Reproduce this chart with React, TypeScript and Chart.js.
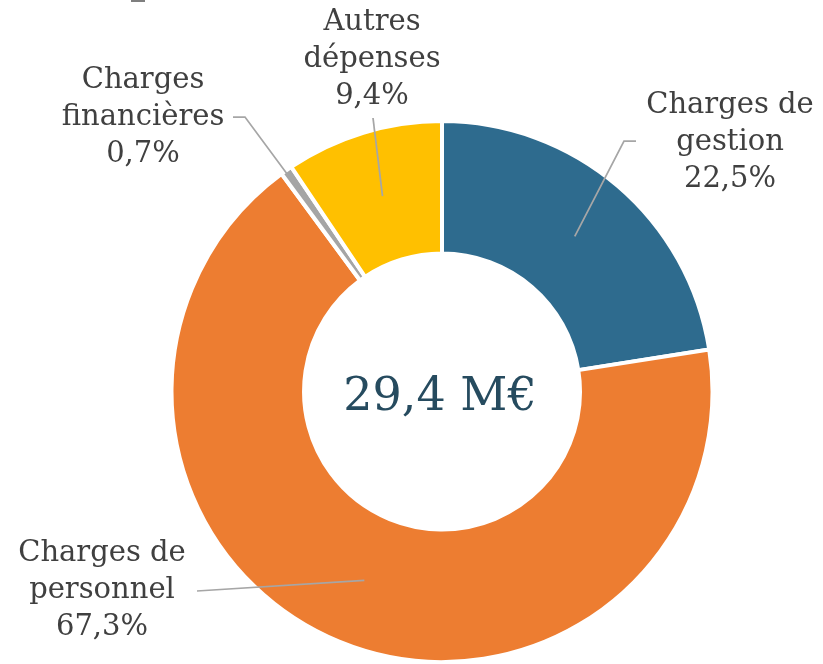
import React, { useEffect, useRef } from "react";
import { Chart, registerables } from "chart.js";

Chart.register(...registerables);

const categories = ["Charges de gestion", "Charges de personnel", "Charges financières", "Autres dépenses"];
const shares = [22.5, 67.3, 0.7, 9.4];
const labelLines = [
  ["Charges de", "gestion", "22,5%"],
  ["Charges de", "personnel", "67,3%"],
  ["Charges", "financières", "0,7%"],
  ["Autres", "dépenses", "9,4%"],
];
const colors = ["#2E6B8E", "#ED7D31", "#A5A5A5", "#FFC000"];
const centerText = "29,4 M€";

// label layout: text center x, first line center y, leader path (points after the centroid)
const labelLayout = [
  { x: 730, y: 105, path: [[624, 141], [636, 141]] },
  { x: 102, y: 553, path: [[197, 591]] },
  { x: 143, y: 80, path: [[245, 117], [233, 117]] },
  { x: 372, y: 22, path: [[373, 118]] },
];

const labelPlugin = {
  id: "labels",
  afterDraw(chart: any) {
    const ctx = chart.ctx;
    const meta = chart.getDatasetMeta(0);
    ctx.save();
    meta.data.forEach((arc: any, i: number) => {
      const p = arc.getProps(["x", "y", "startAngle", "endAngle", "innerRadius", "outerRadius"], true);
      const mid = (p.startAngle + p.endAngle) / 2;
      const r = (p.innerRadius + p.outerRadius) / 2;
      const cx = p.x + Math.cos(mid) * r;
      const cy = p.y + Math.sin(mid) * r;
      const L = labelLayout[i];
      ctx.strokeStyle = "#A6A6A6";
      ctx.lineWidth = 1.75;
      ctx.beginPath();
      ctx.moveTo(cx, cy);
      L.path.forEach((pt) => ctx.lineTo(pt[0], pt[1]));
      ctx.stroke();
      ctx.fillStyle = "#404040";
      ctx.font = "29px 'DejaVu Serif'";
      ctx.textAlign = "center";
      ctx.textBaseline = "middle";
      labelLines[i].forEach((t, k) => ctx.fillText(t, L.x, L.y + k * 37));
    });
    const a0 = meta.data[0];
    ctx.fillStyle = "#264B5F";
    ctx.font = "46px 'DejaVu Serif'";
    ctx.textAlign = "center";
    ctx.textBaseline = "middle";
    ctx.fillText(centerText, a0.x - 2, a0.y + 7);
    ctx.restore();
  },
};

export default function App() {
  const ref = useRef<HTMLCanvasElement>(null);
  useEffect(() => {
    const chart = new Chart(ref.current as HTMLCanvasElement, {
      type: "doughnut",
      data: {
        labels: categories,
        datasets: [
          {
            data: shares,
            backgroundColor: colors,
            borderColor: "#FFFFFF",
            borderWidth: 4,
          },
        ],
      },
      options: {
        responsive: false,
        animation: false,
        cutout: "51%",
        layout: { padding: { left: 169, right: 108, top: 119, bottom: 0 } },
        plugins: { legend: { display: false }, tooltip: { enabled: false } },
      },
      plugins: [labelPlugin],
    });
    return () => chart.destroy();
  }, []);
  return (
    <div style={{ position: "absolute", left: 0, top: 0, width: 823, height: 664, background: "#fff" }}>
      <div style={{ position: "absolute", left: 131, top: 0, width: 14, height: 2, background: "#7F7F7F" }} />
      <canvas ref={ref} width={823} height={664} style={{ display: "block" }} />
    </div>
  );
}
